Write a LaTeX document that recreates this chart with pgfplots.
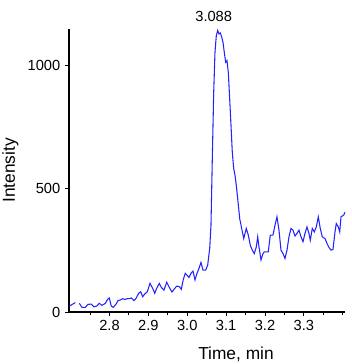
\documentclass[border=0pt]{standalone}
\usepackage{pgfplots}
\pgfplotsset{compat=1.18}
\usepackage{fontspec}
\setmainfont{Liberation Sans}
\definecolor{trace}{RGB}{35,35,255}
\begin{document}
\begin{tikzpicture}
\begin{axis}[
  scale only axis,
  width=207pt, height=212.25pt,
  xmin=2.6958, xmax=3.4059,
  ymin=0, ymax=1148,
  axis lines*=left,
  axis line style={-, line width=0.9pt, black},
  xtick={2.8,2.9,3.0,3.1,3.2,3.3},
  xticklabels={2.8,2.9,3.0,3.1,3.2,3.3},
  minor xtick={2.75,2.85,2.95,3.05,3.15,3.25,3.35,3.4},
  ytick={0,500,1000},
  tick align=outside,
  major tick length=3pt,
  minor tick length=2pt,
  tick style={black, line width=0.7pt},
  /pgf/number format/assume math mode=true,
  /pgf/number format/1000 sep={},
  ticklabel style={font=\fontsize{11}{13}\selectfont, black},
  xlabel={Time, min},
  ylabel={Intensity},
  xlabel style={font=\fontsize{13}{15}\selectfont, at={(axis description cs:0.605,0)}, anchor=base, yshift=-35.25pt},
  ylabel style={font=\fontsize{13}{15}\selectfont, at={(axis description cs:-0.1957,0.5)}, anchor=base},
  clip=false,
]
\addplot[color=trace, line width=0.8pt] coordinates {
(2.6966,24)(2.7053,32)(2.7120,38)
};
\addplot[color=trace, line width=0.8pt] coordinates {
(2.7223,35)(2.7292,19)(2.7377,19)(2.7447,31)(2.7532,32)(2.7601,21)(2.7671,24)(2.7738,35)(2.7807,27)(2.7892,35)
(2.7943,49)(2.7995,57)(2.8046,24)(2.8098,19)(2.8167,32)(2.8219,46)(2.8288,49)(2.8340,54)(2.8391,51)(2.8458,54)
(2.8509,54)(2.8561,57)(2.8630,46)(2.8682,55)(2.8751,76)(2.8803,82)(2.8854,62)(2.8906,73)(2.8972,82)(2.9042,116)
(2.9111,96)(2.9163,76)(2.9214,96)(2.9281,116)(2.9333,100)(2.9402,89)(2.9472,121)(2.9538,100)(2.9608,81)(2.9659,92)
(2.9729,105)(2.9796,103)(2.9847,92)(2.9899,132)(2.9950,157)(2.9994,150)(3.0045,140)(3.0097,157)(3.0148,166)(3.0200,130)
(3.0251,157)(3.0303,177)(3.0354,201)(3.0406,170)(3.0475,170)(3.0526,190)(3.0578,258)(3.0611,352)(3.0645,622)(3.0681,892)
(3.0714,1054)(3.0748,1121)(3.0784,1142)(3.0817,1128)(3.0851,1132)(3.0887,1115)(3.0920,1094)(3.0953,1054)(3.0989,1013)(3.1023,1020)
(3.1056,973)(3.1092,865)(3.1126,757)(3.1159,649)(3.1195,582)(3.1229,555)(3.1262,514)(3.1298,460)(3.1350,379)(3.1401,339)
(3.1453,298)(3.1519,339)(3.1571,312)(3.1622,271)(3.1674,251)(3.1725,237)(3.1777,264)(3.1813,305)(3.1846,264)(3.1898,211)
(3.1949,237)(3.1983,244)(3.2034,244)(3.2085,244)(3.2137,312)(3.2206,312)(3.2258,352)(3.2309,386)(3.2361,332)(3.2412,251)
(3.2465,237)(3.2515,217)(3.2567,251)(3.2618,305)(3.2670,339)(3.2721,332)(3.2773,308)(3.2824,319)(3.2875,332)(3.2927,305)
(3.2978,285)(3.3030,319)(3.3081,345)(3.3132,319)(3.3166,291)(3.3217,339)(3.3269,325)(3.3320,345)(3.3372,386)(3.3423,339)
(3.3475,305)(3.3544,298)(3.3596,278)(3.3647,262)(3.3699,251)(3.3750,254)(3.3802,325)(3.3835,359)(3.3887,345)(3.3923,325)
(3.3956,386)(3.4026,393)(3.4059,405)
};
\node[anchor=base, font=\fontsize{11}{13}\selectfont, inner sep=0pt] at (axis cs:3.0681,1178) {3.088};
\end{axis}
\pgfresetboundingbox
\path ([xshift=-51.75pt, yshift=-39pt]current axis.south west) rectangle ([xshift=5.25pt, yshift=21.75pt]current axis.north east);
\end{tikzpicture}
\end{document}
